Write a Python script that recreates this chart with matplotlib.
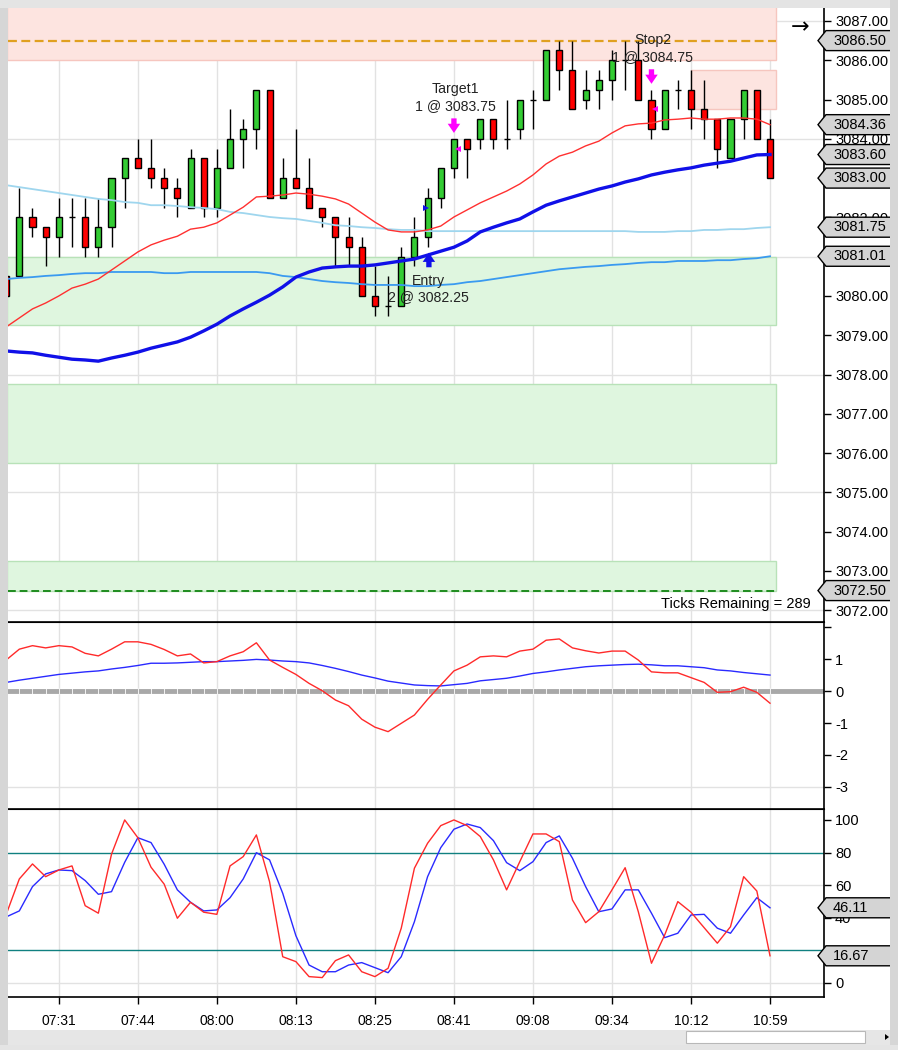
import numpy as np
import matplotlib.pyplot as plt
from matplotlib.patches import Rectangle, Polygon
from matplotlib.transforms import IdentityTransform

plt.rcParams['font.family'] = ['Liberation Sans', 'DejaVu Sans']
plt.rcParams['font.size'] = 10

# x axis: one slot per bar (tick chart), labels every 6 bars
time_labels = ['07:31', '07:44', '08:00', '08:13', '08:25', '08:41', '09:08', '09:34', '10:12', '10:59']
label_bars = [3, 9, 15, 21, 27, 33, 39, 45, 51, 57]

# bar -1 is the one cut off by the left edge
bars = list(range(-1, 58))
opens = [3080.50, 3080.50, 3082.00, 3081.75, 3081.50, 3082.00, 3082.00, 3081.25, 3081.75, 3083.00,
         3083.50, 3083.25, 3083.00, 3082.75, 3082.25, 3083.50, 3082.25, 3083.25, 3084.00, 3084.25,
         3085.25, 3082.50, 3083.00, 3082.75, 3082.25, 3082.00, 3081.50, 3081.25, 3080.00, 3079.75,
         3079.75, 3081.00, 3081.50, 3082.50, 3083.25, 3084.00, 3084.00, 3084.50, 3084.00, 3084.25,
         3085.00, 3085.00, 3086.25, 3085.75, 3085.00, 3085.25, 3085.50, 3086.00, 3086.00, 3085.00,
         3084.25, 3085.25, 3085.25, 3084.75, 3084.50, 3083.50, 3084.50, 3085.25, 3084.00]
highs = [3080.50, 3082.75, 3082.25, 3081.75, 3082.50, 3082.50, 3082.50, 3082.50, 3083.00, 3083.50,
         3084.00, 3084.00, 3083.25, 3083.00, 3083.75, 3083.50, 3083.75, 3084.75, 3084.50, 3085.25,
         3085.25, 3083.50, 3084.25, 3083.50, 3082.25, 3082.00, 3082.00, 3081.50, 3080.75, 3080.50,
         3081.25, 3082.00, 3082.75, 3083.25, 3084.00, 3084.00, 3084.50, 3084.50, 3085.00, 3085.00,
         3085.25, 3086.25, 3086.50, 3086.50, 3085.75, 3085.75, 3086.25, 3086.50, 3086.50, 3085.25,
         3085.25, 3085.50, 3085.75, 3085.50, 3084.50, 3084.50, 3085.25, 3085.25, 3084.50]
lows = [3080.00, 3080.50, 3081.50, 3080.75, 3081.00, 3081.25, 3081.00, 3081.00, 3081.25, 3082.25,
        3083.25, 3082.75, 3082.25, 3082.00, 3082.25, 3082.00, 3082.00, 3083.25, 3083.25, 3083.75,
        3082.50, 3082.50, 3082.75, 3082.25, 3081.75, 3080.75, 3080.75, 3080.00, 3079.50, 3079.50,
        3079.75, 3080.75, 3081.25, 3082.25, 3083.00, 3083.00, 3083.75, 3083.75, 3083.75, 3084.00,
        3084.25, 3085.00, 3085.25, 3084.75, 3084.75, 3084.75, 3085.00, 3085.25, 3085.00, 3084.00,
        3084.25, 3084.75, 3084.25, 3084.00, 3083.25, 3083.50, 3084.00, 3084.00, 3083.00]
closes = [3080.00, 3082.00, 3081.75, 3081.50, 3082.00, 3082.00, 3081.25, 3081.75, 3083.00, 3083.50,
          3083.25, 3083.00, 3082.75, 3082.50, 3083.50, 3082.25, 3083.25, 3084.00, 3084.25, 3085.25,
          3082.50, 3083.00, 3082.75, 3082.25, 3082.00, 3081.50, 3081.25, 3080.00, 3079.75, 3079.75,
          3081.00, 3081.50, 3082.50, 3083.25, 3084.00, 3083.75, 3084.50, 3084.00, 3084.00, 3085.00,
          3085.00, 3086.25, 3085.75, 3084.75, 3085.25, 3085.50, 3086.00, 3086.00, 3085.00, 3084.25,
          3085.25, 3085.25, 3084.75, 3084.50, 3083.75, 3084.50, 3085.25, 3084.00, 3083.00]

# moving averages on the price panel
ema_fast = [3079.21, 3079.44, 3079.67, 3079.82, 3080.00, 3080.20, 3080.30, 3080.43, 3080.66, 3080.89,
            3081.12, 3081.30, 3081.42, 3081.52, 3081.70, 3081.75, 3081.86, 3082.06, 3082.26, 3082.52,
            3082.54, 3082.57, 3082.62, 3082.59, 3082.54, 3082.47, 3082.34, 3082.11, 3081.88, 3081.68,
            3081.63, 3081.63, 3081.68, 3081.78, 3082.01, 3082.19, 3082.37, 3082.52, 3082.67, 3082.85,
            3083.08, 3083.36, 3083.56, 3083.66, 3083.82, 3083.94, 3084.15, 3084.33, 3084.38, 3084.40,
            3084.48, 3084.50, 3084.53, 3084.50, 3084.50, 3084.53, 3084.53, 3084.50, 3084.36]
sma_slow = [3078.60, 3078.57, 3078.55, 3078.49, 3078.44, 3078.39, 3078.37, 3078.34, 3078.42, 3078.49,
            3078.57, 3078.67, 3078.75, 3078.83, 3078.95, 3079.11, 3079.28, 3079.49, 3079.67, 3079.84,
            3080.02, 3080.23, 3080.48, 3080.61, 3080.71, 3080.74, 3080.76, 3080.76, 3080.79, 3080.84,
            3080.89, 3080.94, 3081.04, 3081.14, 3081.24, 3081.40, 3081.63, 3081.75, 3081.86, 3081.96,
            3082.14, 3082.31, 3082.42, 3082.52, 3082.62, 3082.72, 3082.80, 3082.90, 3082.98, 3083.08,
            3083.15, 3083.21, 3083.26, 3083.33, 3083.38, 3083.43, 3083.51, 3083.59, 3083.60]
ma_long = [3082.82, 3082.77, 3082.72, 3082.67, 3082.62, 3082.57, 3082.52, 3082.47, 3082.44, 3082.39,
           3082.37, 3082.31, 3082.31, 3082.29, 3082.26, 3082.24, 3082.21, 3082.14, 3082.11, 3082.06,
           3082.01, 3081.98, 3081.96, 3081.91, 3081.86, 3081.80, 3081.78, 3081.75, 3081.73, 3081.70,
           3081.68, 3081.68, 3081.65, 3081.65, 3081.65, 3081.65, 3081.65, 3081.65, 3081.65, 3081.65,
           3081.65, 3081.65, 3081.65, 3081.65, 3081.65, 3081.65, 3081.65, 3081.65, 3081.63, 3081.63,
           3081.63, 3081.65, 3081.65, 3081.68, 3081.68, 3081.70, 3081.70, 3081.73, 3081.75]
ma_mid = [3080.43, 3080.46, 3080.48, 3080.51, 3080.53, 3080.56, 3080.58, 3080.58, 3080.61, 3080.61,
          3080.61, 3080.61, 3080.58, 3080.58, 3080.61, 3080.61, 3080.61, 3080.61, 3080.61, 3080.61,
          3080.58, 3080.51, 3080.48, 3080.43, 3080.38, 3080.35, 3080.33, 3080.30, 3080.28, 3080.28,
          3080.28, 3080.25, 3080.25, 3080.28, 3080.30, 3080.35, 3080.38, 3080.43, 3080.48, 3080.53,
          3080.58, 3080.63, 3080.68, 3080.71, 3080.74, 3080.76, 3080.79, 3080.81, 3080.84, 3080.86,
          3080.86, 3080.89, 3080.89, 3080.89, 3080.91, 3080.91, 3080.94, 3080.96, 3081.01]

# MACD panel
macd_line = [0.97, 1.31, 1.42, 1.35, 1.42, 1.38, 1.18, 1.10, 1.31, 1.54,
             1.54, 1.46, 1.30, 1.10, 1.16, 0.88, 0.92, 1.10, 1.23, 1.51,
             0.97, 0.74, 0.52, 0.24, 0.01, -0.28, -0.46, -0.88, -1.13, -1.27,
             -1.01, -0.75, -0.26, 0.19, 0.63, 0.81, 1.07, 1.10, 1.07, 1.25,
             1.31, 1.59, 1.63, 1.35, 1.26, 1.19, 1.25, 1.25, 0.97, 0.60,
             0.57, 0.57, 0.42, 0.27, -0.04, -0.02, 0.12, -0.04, -0.38]
macd_signal = [0.27, 0.34, 0.40, 0.46, 0.52, 0.56, 0.60, 0.63, 0.69, 0.74,
               0.80, 0.87, 0.87, 0.88, 0.90, 0.92, 0.92, 0.94, 0.96, 0.99,
               0.97, 0.94, 0.92, 0.88, 0.80, 0.71, 0.61, 0.50, 0.41, 0.31,
               0.25, 0.19, 0.17, 0.16, 0.20, 0.24, 0.32, 0.36, 0.40, 0.47,
               0.55, 0.60, 0.66, 0.71, 0.76, 0.79, 0.81, 0.83, 0.84, 0.82,
               0.79, 0.79, 0.76, 0.73, 0.66, 0.63, 0.58, 0.54, 0.50]

# stochastics panel
stoch_k = [42.0, 63.8, 73.0, 65.2, 69.3, 71.8, 47.4, 42.8, 79.0, 100.0,
           89.1, 71.0, 60.6, 39.7, 49.5, 43.4, 42.1, 71.8, 77.5, 90.8,
           62.1, 16.1, 13.1, 3.9, 3.3, 13.7, 17.2, 6.9, 3.9, 9.0,
           33.6, 70.4, 85.7, 96.5, 100.0, 96.5, 89.8, 75.5, 57.1, 74.4,
           91.4, 91.4, 86.7, 50.9, 37.0, 43.7, 57.1, 70.7, 43.7, 12.1,
           29.4, 49.9, 43.4, 33.9, 24.4, 34.5, 65.2, 56.4, 16.67]
stoch_d = [40.5, 44.2, 59.1, 66.9, 69.3, 68.9, 62.8, 54.4, 56.0, 74.0,
           89.1, 86.1, 72.8, 57.1, 49.5, 44.2, 44.8, 52.3, 63.8, 79.9,
           75.5, 55.0, 29.0, 11.0, 6.9, 6.9, 11.0, 12.5, 9.4, 6.3,
           16.1, 37.6, 65.2, 83.0, 94.3, 97.5, 95.3, 87.3, 73.8, 68.9,
           74.4, 86.1, 90.2, 76.5, 59.1, 43.7, 45.4, 57.1, 57.1, 42.8,
           27.8, 30.5, 41.7, 42.1, 33.6, 30.5, 41.7, 52.3, 46.11]

# zones: (first bar, last bar, low, high)
supply_zones = [(-0.9, 57.46, 3086.00, 3087.50), (51.0, 57.46, 3084.75, 3085.75)]
demand_zones = [(-0.9, 57.46, 3079.25, 3081.00), (-0.9, 57.46, 3075.75, 3077.75),
                (-0.9, 57.46, 3072.50, 3073.25)]
stop_level = 3086.50
target_level = 3072.50

price_tags = [3086.50, 3084.36, 3083.60, 3083.00, 3081.75, 3081.01, 3072.50]
stoch_tags = [46.11, 16.67]

XMIN, XMAX = -0.86, 61.1

fig = plt.figure(figsize=(8.98, 10.5), dpi=100)
fig.patch.set_facecolor('white')
L, W = 8 / 898, 816 / 898
ax1 = fig.add_axes([L, 428 / 1050, W, 614 / 1050])
ax2 = fig.add_axes([L, 241 / 1050, W, 187 / 1050], sharex=ax1)
ax3 = fig.add_axes([L, 53 / 1050, W, 188 / 1050], sharex=ax1)

grid_c = '#e2e2e2'
for ax in (ax1, ax2, ax3):
    ax.set_facecolor('white')
    ax.yaxis.tick_right()
    ax.spines['left'].set_visible(False)
    ax.spines['top'].set_visible(False)
    ax.spines['right'].set_linewidth(1.2)
    ax.spines['bottom'].set_linewidth(1.2)
    ax.tick_params(axis='y', direction='out', length=5, width=1, pad=3, labelsize=10.5)
    for b in label_bars:
        ax.axvline(b, color=grid_c, lw=1, zorder=0)
ax2.spines['top'].set_visible(True)
ax3.spines['top'].set_visible(True)
ax1.tick_params(axis='x', length=0, labelbottom=False)
ax2.tick_params(axis='x', length=0, labelbottom=False)
ax3.tick_params(axis='x', direction='out', length=5, width=1, pad=7, labelsize=10)

# ---- price panel
ax1.set_xlim(XMIN, XMAX)
ax1.set_ylim(3071.70, 3087.33)
price_ticks = np.arange(3072, 3088, 1.0)
ax1.set_yticks(price_ticks)
# labels that sit fully under a price tag are left blank
ax1.set_yticklabels(['' if v in (3081.0, 3083.0) else '%.2f' % v for v in price_ticks])
for g in [3072, 3075, 3078, 3081, 3084, 3087]:
    ax1.axhline(g, color=grid_c, lw=1, zorder=0)

for x0, x1, lo, hi in supply_zones:
    ax1.add_patch(Rectangle((x0, lo), x1 - x0, hi - lo, facecolor='#fde4e0',
                            edgecolor='#f6c6bf', lw=1, zorder=1))
for x0, x1, lo, hi in demand_zones:
    ax1.add_patch(Rectangle((x0, lo), x1 - x0, hi - lo, facecolor='#dff6df',
                            edgecolor='#b8e2b8', lw=1, zorder=1))
ax1.plot([XMIN, 57.46], [stop_level, stop_level], color='#e0a020', lw=1.6,
         ls=(0, (4, 2)), zorder=2)
ax1.plot([XMIN, 57.46], [target_level, target_level], color='#1e8c1e', lw=1.4,
         ls=(0, (4, 2)), zorder=2)

ax1.vlines(bars, lows, highs, color='black', lw=1, zorder=3)
for i, o, c in zip(bars, opens, closes):
    if c > o:
        fc = '#33cc33'
    elif c < o:
        fc = '#ff0000'
    else:
        fc = 'black'
    ax1.add_patch(Rectangle((i - 0.23, min(o, c)), 0.46, abs(c - o), facecolor=fc,
                            edgecolor='black', lw=1, zorder=4))

ax1.plot(bars, ma_long, color='#9fd6ee', lw=1.3, zorder=5)
ax1.plot(bars, ma_mid, color='#3a9af0', lw=1.3, zorder=5)
ax1.plot(bars, ema_fast, color='#ff3030', lw=1.0, zorder=5)
ax1.plot(bars, sma_slow, color='#1010e8', lw=2.4, zorder=5)

# order markers
arrow_style = 'simple,head_length=0.55,head_width=0.75,tail_width=0.32'
ax1.annotate('', xy=(33, 3084.15), xytext=(33, 3084.52),
             arrowprops=dict(arrowstyle=arrow_style, color='#ff00ff', lw=0,
                             shrinkA=0, shrinkB=0, mutation_scale=12), zorder=7)
ax1.annotate('', xy=(48, 3085.40), xytext=(48, 3085.77),
             arrowprops=dict(arrowstyle=arrow_style, color='#ff00ff', lw=0,
                             shrinkA=0, shrinkB=0, mutation_scale=12), zorder=7)
ax1.annotate('', xy=(31.1, 3081.10), xytext=(31.1, 3080.73),
             arrowprops=dict(arrowstyle=arrow_style, color='#1010e8', lw=0,
                             shrinkA=0, shrinkB=0, mutation_scale=12), zorder=7)
ax1.plot([30.9], [3082.25], marker='>', color='#1010e8', ms=5, zorder=7, mew=0)
ax1.plot([33.3], [3083.75], marker='<', color='#ff00ff', ms=5, zorder=7, mew=0)
ax1.plot([48.3], [3084.75], marker='<', color='#ff00ff', ms=5, zorder=7, mew=0)

txt_c = '#222222'
ax1.text(33.08, 3085.27, 'Target1', ha='center', va='center', color=txt_c, fontsize=10.2, zorder=8)
ax1.text(33.08, 3084.84, '1 @ 3083.75', ha='center', va='center', color=txt_c, fontsize=10.2, zorder=8)
ax1.text(31.1, 3080.38, 'Entry', ha='center', va='center', color=txt_c, fontsize=10.2, zorder=8)
ax1.text(31.1, 3079.97, '2 @ 3082.25', ha='center', va='center', color=txt_c, fontsize=10.2, zorder=8)
ax1.text(48.1, 3086.52, 'Stop2', ha='center', va='center', color=txt_c, fontsize=10.2, zorder=8)
ax1.text(48.1, 3086.08, '1 @ 3084.75', ha='center', va='center', color=txt_c, fontsize=10.2, zorder=8)
ax1.text(0.984, 0.029, 'Ticks Remaining = 289', transform=ax1.transAxes, ha='right',
         va='center', fontsize=10.5, color='black', zorder=8)

# ---- MACD panel
ax2.set_ylim(-3.69, 2.16)
ax2.set_yticks([-3, -2, -1, 0, 1, 2])
ax2.set_yticklabels(['-3', '-2', '-1', '0', '1', ''])
ax2.axhline(-3, color=grid_c, lw=1, zorder=0)
ax2.axhline(0, color='#a8a8a8', lw=3.5, zorder=1)
# pale histogram stubs break the zero line at every bar
ax2.vlines(bars, -0.08, 0.08, color='white', lw=0.6, zorder=2)
ax2.plot(bars, macd_signal, color='#2a2aff', lw=1.0, zorder=3)
ax2.plot(bars, macd_line, color='#ff2a2a', lw=1.0, zorder=3)

# ---- stochastics panel
ax3.set_ylim(-8.6, 106.7)
ax3.set_yticks([0, 20, 40, 60, 80, 100])
ax3.set_yticklabels(['0', '', '40', '60', '80', '100'])
ax3.axhline(0, color=grid_c, lw=1, zorder=0)
ax3.axhline(60, color=grid_c, lw=1, zorder=0)
ax3.axhline(80, color='#108080', lw=1, zorder=1)
ax3.axhline(20, color='#108080', lw=1, zorder=1)
ax3.plot(bars, stoch_d, color='#2a2aff', lw=1.0, zorder=3)
ax3.plot(bars, stoch_k, color='#ff2a2a', lw=1.0, zorder=3)
ax3.set_xticks(label_bars)
ax3.set_xticklabels(time_labels)


def add_tag(ax, value, text):
    spine_x = ax.transAxes.transform((1, 0))[0]
    py = ax.transData.transform((0, value))[1]
    h = 10
    pts = [(spine_x - 6, py), (spine_x + 2, py + h), (spine_x + 70, py + h),
           (spine_x + 70, py - h), (spine_x + 2, py - h)]
    fig.add_artist(Polygon(pts, closed=True, facecolor='#d4d4d4', edgecolor='black',
                           lw=1, transform=IdentityTransform(), zorder=10))
    fig.text(spine_x + 9, py, text, ha='left', va='center', fontsize=10.5,
             transform=IdentityTransform(), zorder=11)


for v in price_tags:
    add_tag(ax1, v, '%.2f' % v)
for v in stoch_tags:
    add_tag(ax3, v, '%.2f' % v)

# window chrome: arrow, scroll bar, frame shadow
fig.text(800, 1050 - 27, '\u2192', ha='center', va='center', fontsize=16,
         family='DejaVu Sans', transform=IdentityTransform())
fig.add_artist(Rectangle((8, 1050 - 1045), 882, 15, facecolor='#e6e6e6', edgecolor='none',
                         transform=IdentityTransform(), zorder=9))
fig.add_artist(Rectangle((686, 1050 - 1043), 179, 12, facecolor='white', edgecolor='#b8b8b8',
                         lw=0.8, transform=IdentityTransform(), zorder=10))
fig.add_artist(Polygon([(885, 1050 - 1034), (885, 1050 - 1040), (889, 1050 - 1037)],
                       facecolor='black', transform=IdentityTransform(), zorder=10))
fig.add_artist(Rectangle((0, 0), 8, 1050, facecolor='#d6d6d6', edgecolor='none',
                         transform=IdentityTransform(), zorder=9))
fig.add_artist(Rectangle((0, 1042), 898, 8, facecolor='#e4e4e4', edgecolor='none',
                         transform=IdentityTransform(), zorder=9))
fig.add_artist(Rectangle((890, 0), 8, 1050, facecolor='#d6d6d6', edgecolor='none',
                         transform=IdentityTransform(), zorder=12))
fig.add_artist(Rectangle((0, 0), 898, 5, facecolor='#e4e4e4', edgecolor='none',
                         transform=IdentityTransform(), zorder=12))

fig.savefig('out.png', dpi=100, facecolor='white')
